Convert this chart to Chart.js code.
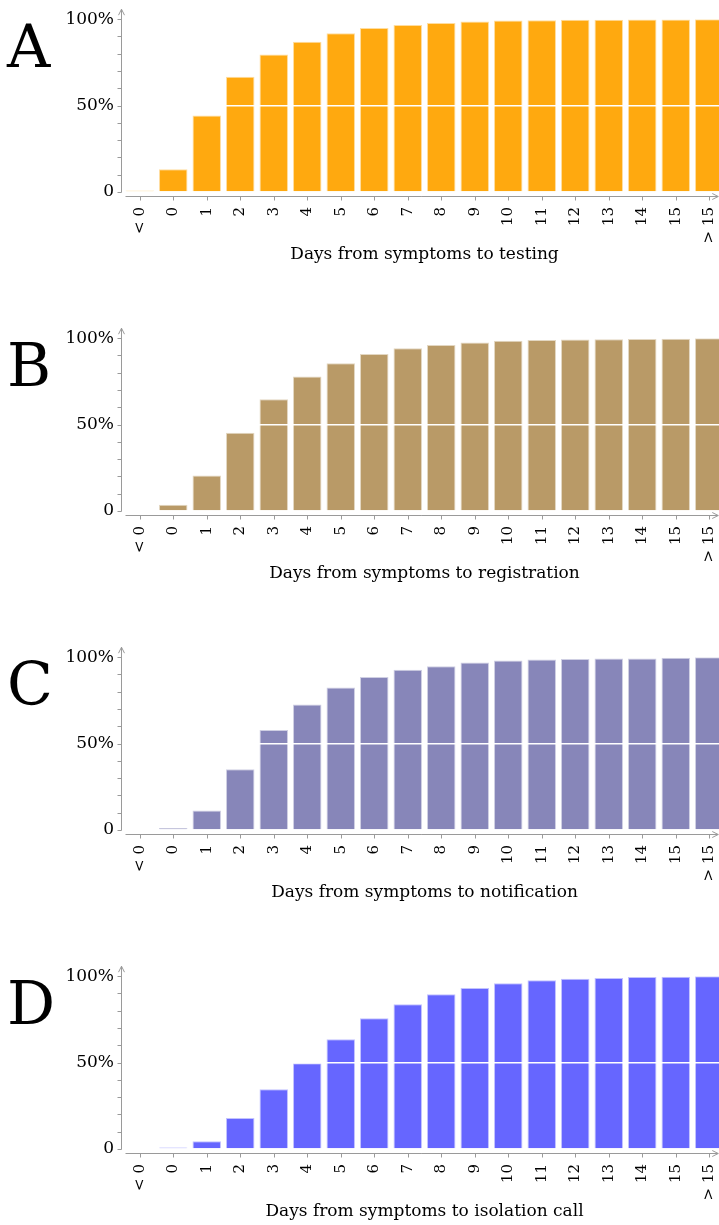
<!DOCTYPE html>
<html>
<head>
<meta charset="utf-8">
<script src="https://cdn.jsdelivr.net/npm/chart.js@4.4.0/dist/chart.umd.min.js"></script>
<style>
  html, body { margin: 0; padding: 0; background: #fff; overflow: hidden; }
  body { width: 719px; height: 1225px; position: relative; }
  .panel { position: absolute; left: 0; width: 726px; height: 268px; }
  .letter { position: absolute; left: 7px; top: 16px; font-family: "DejaVu Serif", serif; font-size: 60px; line-height: 60px; color: #000; }
</style>
</head>
<body>
<div class="panel" style="top:0px"><div class="letter">A</div><canvas id="chartA" width="726" height="268"></canvas></div>
<div class="panel" style="top:319px"><div class="letter">B</div><canvas id="chartB" width="726" height="268"></canvas></div>
<div class="panel" style="top:638px"><div class="letter">C</div><canvas id="chartC" width="726" height="268"></canvas></div>
<div class="panel" style="top:957px"><div class="letter">D</div><canvas id="chartD" width="726" height="268"></canvas></div>

<script>
// categories on the x axis
var dayLabels = ['< 0', '0', '1', '2', '3', '4', '5', '6', '7', '8', '9', '10', '11', '12', '13', '14', '15', '> 15'];

// cumulative share of cases (%)
var testing      = [0.8, 13.2, 44.2, 66.7, 79.5, 87.0, 91.9, 94.9, 96.6, 97.8, 98.6, 99.3, 99.4, 99.7, 99.7, 99.8, 99.8, 100];
var registration = [0, 3.6, 20.5, 45.3, 64.7, 77.8, 85.5, 90.8, 94.2, 96.0, 97.5, 98.5, 99.0, 99.3, 99.4, 99.6, 99.7, 100];
var notification = [0, 1.1, 11.3, 35.1, 57.8, 72.6, 82.4, 88.6, 92.7, 94.8, 96.9, 98.1, 98.6, 98.9, 99.2, 99.3, 99.7, 100];
var isolation    = [0, 0.9, 4.5, 17.9, 34.6, 49.6, 63.5, 75.6, 83.8, 89.6, 93.1, 95.9, 97.6, 98.5, 98.9, 99.6, 99.7, 100];

// y tick labels (only these values get text)
var yTickText = { 0: '0', 50: '50%', 100: '100%' };

var axisGrey = '#9a9a9a';
var serif = '"DejaVu Serif", serif';

// axis lines with arrow heads, drawn from the chart's own scales
var arrowAxes = {
  id: 'arrowAxes',
  afterDraw: function(chart) {
    var ctx = chart.ctx;
    var area = chart.chartArea;
    var xs = chart.scales.x;
    var ys = chart.scales.y;
    var zeroY = ys.getPixelForValue(0);
    var topY = ys.getPixelForValue(100);
    var yx = area.left - 1.5;

    ctx.save();
    ctx.strokeStyle = axisGrey;
    ctx.lineWidth = 1;

    // y axis line + arrow
    ctx.beginPath();
    ctx.moveTo(yx, zeroY + 0.5);
    ctx.lineTo(yx, topY - 10);
    ctx.moveTo(yx - 3, topY - 4);
    ctx.lineTo(yx, topY - 10);
    ctx.lineTo(yx + 3, topY - 4);
    // y tick marks every 10
    for (var v = 0; v <= 100; v += 10) {
      var py = Math.round(ys.getPixelForValue(v)) + 0.5;
      ctx.moveTo(yx - 4, py);
      ctx.lineTo(yx, py);
    }
    ctx.stroke();

    // x axis line + arrow, a little under the zero line
    var axY = Math.round(zeroY + 4) + 0.5;
    var tipX = xs.getPixelForValue(dayLabels.length - 1) + 9;
    ctx.beginPath();
    ctx.moveTo(area.left + 2.5, axY);
    ctx.lineTo(tipX, axY);
    ctx.moveTo(tipX - 6, axY - 3);
    ctx.lineTo(tipX, axY);
    ctx.lineTo(tipX - 6, axY + 3);
    for (var i = 0; i < dayLabels.length; i++) {
      var px = Math.round(xs.getPixelForValue(i)) + 0.5;
      ctx.moveTo(px, axY);
      ctx.lineTo(px, axY + 4);
    }
    ctx.stroke();
    ctx.restore();
  }
};

function lighten(hex, amt) {
  var r = parseInt(hex.substr(1, 2), 16);
  var g = parseInt(hex.substr(3, 2), 16);
  var b = parseInt(hex.substr(5, 2), 16);
  r = Math.round(r + (255 - r) * amt);
  g = Math.round(g + (255 - g) * amt);
  b = Math.round(b + (255 - b) * amt);
  return 'rgb(' + r + ',' + g + ',' + b + ')';
}

function drawPanel(canvasId, values, color, titleText) {
  var ctx = document.getElementById(canvasId).getContext('2d');
  return new Chart(ctx, {
    type: 'bar',
    data: {
      labels: dayLabels,
      datasets: [{
        data: values,
        backgroundColor: color,
        borderColor: lighten(color, 0.6),
        borderWidth: 1,
        categoryPercentage: 1.0,
        barPercentage: 0.85
      }]
    },
    options: {
      responsive: false,
      animation: false,
      events: [],
      layout: { padding: { top: 15, left: 0, right: 0, bottom: 0 } },
      plugins: {
        legend: { display: false },
        tooltip: { enabled: false }
      },
      scales: {
        x: {
          offset: true,
          grid: { display: false, drawTicks: false },
          border: { display: false },
          ticks: {
            minRotation: 90,
            maxRotation: 90,
            autoSkip: false,
            padding: 15,
            color: '#000',
            font: { family: serif, size: 15 }
          },
          title: {
            display: true,
            text: titleText,
            color: '#000',
            font: { family: serif, size: 17 },
            padding: { top: 0, bottom: 3 }
          },
          afterFit: function(scale) {
            scale.height = 76;
            // let the bars run to the canvas edges
            scale.paddingLeft = 0;
            scale.paddingRight = 0;
          }
        },
        y: {
          min: 0,
          max: 100,
          grid: {
            z: 1,
            drawTicks: false,
            lineWidth: 1.5,
            color: function(c) {
              return c.tick && c.tick.value === 50 ? '#ffffff' : 'rgba(0,0,0,0)';
            }
          },
          border: { display: false },
          ticks: {
            stepSize: 10,
            autoSkip: false,
            padding: 9,
            color: '#000',
            font: { family: serif, size: 17 },
            callback: function(value) {
              return yTickText[value] !== undefined ? yTickText[value] : '';
            }
          },
          afterFit: function(scale) { scale.width = 123; }
        }
      }
    },
    plugins: [arrowAxes]
  });
}

drawPanel('chartA', testing, '#ffa90f', 'Days from symptoms to testing');
drawPanel('chartB', registration, '#b99a67', 'Days from symptoms to registration');
drawPanel('chartC', notification, '#8786b9', 'Days from symptoms to notification');
drawPanel('chartD', isolation, '#6666ff', 'Days from symptoms to isolation call');
</script>
</body>
</html>
